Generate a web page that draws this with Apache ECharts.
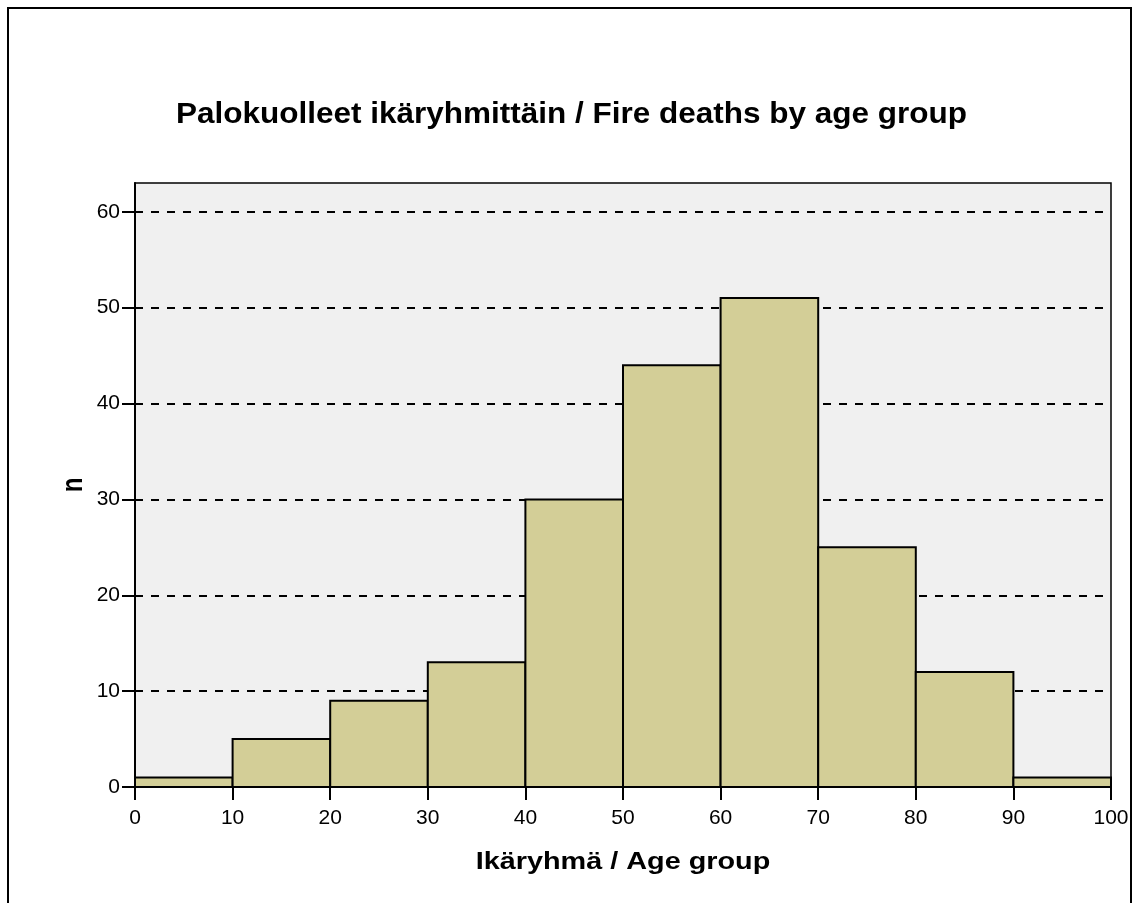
<!DOCTYPE html>
<html>
<head>
<meta charset="utf-8">
<title>Palokuolleet ikäryhmittäin</title>
<script src="https://cdn.jsdelivr.net/npm/echarts@6/dist/echarts.min.js"></script>
<style>
  html, body { margin: 0; padding: 0; background: #fff; }
  #chart { width: 1134px; height: 903px; }
</style>
</head>
<body>
<div id="chart"></div>
<script>
// age group bins (lower / upper edge) and counts
const binStart = [0, 10, 20, 30, 40, 50, 60, 70, 80, 90]
const binEnd = [10, 20, 30, 40, 50, 60, 70, 80, 90, 100]
const counts = [1, 5, 9, 13, 30, 44, 51, 25, 12, 1]
const yTicks = [0, 10, 20, 30, 40, 50, 60]

const chart = echarts.init(document.getElementById('chart'), null, { renderer: 'canvas' })

const barData = binStart.map((s, i) => [s, binEnd[i], counts[i]])

const font = 'Arial, "Liberation Sans", sans-serif'

const option = {
  animation: false,
  backgroundColor: '#fff',
  graphic: [{
    type: 'rect',
    shape: { x: 8, y: 8, width: 1123, height: 920 },
    style: { fill: 'none', stroke: '#000', lineWidth: 2 },
    silent: true
  }, {
    // title (source picture is slightly stretched sideways)
    type: 'text',
    x: 571.5,
    y: 115,
    scaleX: 1.05,
    silent: true,
    style: {
      text: 'Palokuolleet ikäryhmittäin / Fire deaths by age group',
      fontFamily: font,
      fontSize: 30,
      fontWeight: 'bold',
      fill: '#000',
      align: 'center',
      verticalAlign: 'middle'
    }
  }, {
    // x axis name
    type: 'text',
    x: 623,
    y: 862,
    scaleX: 1.2,
    silent: true,
    style: {
      text: 'Ikäryhmä / Age group',
      fontFamily: font,
      fontSize: 24,
      fontWeight: 'bold',
      fill: '#000',
      align: 'center',
      verticalAlign: 'middle'
    }
  }, {
    // y axis name
    type: 'text',
    x: 74.5,
    y: 485,
    rotation: Math.PI / 2,
    scaleY: 1.2,
    silent: true,
    style: {
      text: 'n',
      fontFamily: font,
      fontSize: 24,
      fontWeight: 'bold',
      fill: '#000',
      align: 'center',
      verticalAlign: 'middle'
    }
  }],
  grid: {
    left: 135,
    top: 183,
    right: 23,
    bottom: 116,
    show: true,
    backgroundColor: '#f0f0f0',
    borderColor: '#000',
    borderWidth: 1.5
  },
  xAxis: {
    type: 'value',
    min: 0,
    max: 100,
    interval: 10,
    axisLine: { show: true, lineStyle: { color: '#000', width: 2 } },
    axisTick: { show: true, inside: false, length: 13, lineStyle: { color: '#000', width: 2 } },
    axisLabel: {
      margin: 21,
      fontFamily: font,
      fontSize: 21,
      color: '#000'
    },
    splitLine: { show: false }
  },
  yAxis: {
    type: 'value',
    min: 0,
    max: 63,
    interval: 10,
    axisLine: { show: true, lineStyle: { color: '#000', width: 2 } },
    axisTick: {
      show: true,
      length: 13,
      customValues: yTicks,
      lineStyle: { color: '#000', width: 2 }
    },
    axisLabel: {
      margin: 15,
      fontFamily: font,
      fontSize: 21,
      color: '#000',
      padding: [8, 0, 0, 0],
      customValues: yTicks
    },
    splitLine: {
      show: true,
      lineStyle: { color: '#000', type: [8, 8], width: 2 }
    }
  },
  series: [{
    type: 'custom',
    data: barData,
    encode: { x: [0, 1], y: 2 },
    renderItem: function (params, api) {
      const p0 = api.coord([api.value(0), 0])
      const p1 = api.coord([api.value(1), api.value(2)])
      return {
        type: 'rect',
        shape: { x: p0[0], y: p1[1], width: p1[0] - p0[0], height: p0[1] - p1[1] },
        style: { fill: '#d3ce97', stroke: '#000', lineWidth: 2 }
      }
    }
  }]
}

chart.setOption(option)
</script>
</body>
</html>
